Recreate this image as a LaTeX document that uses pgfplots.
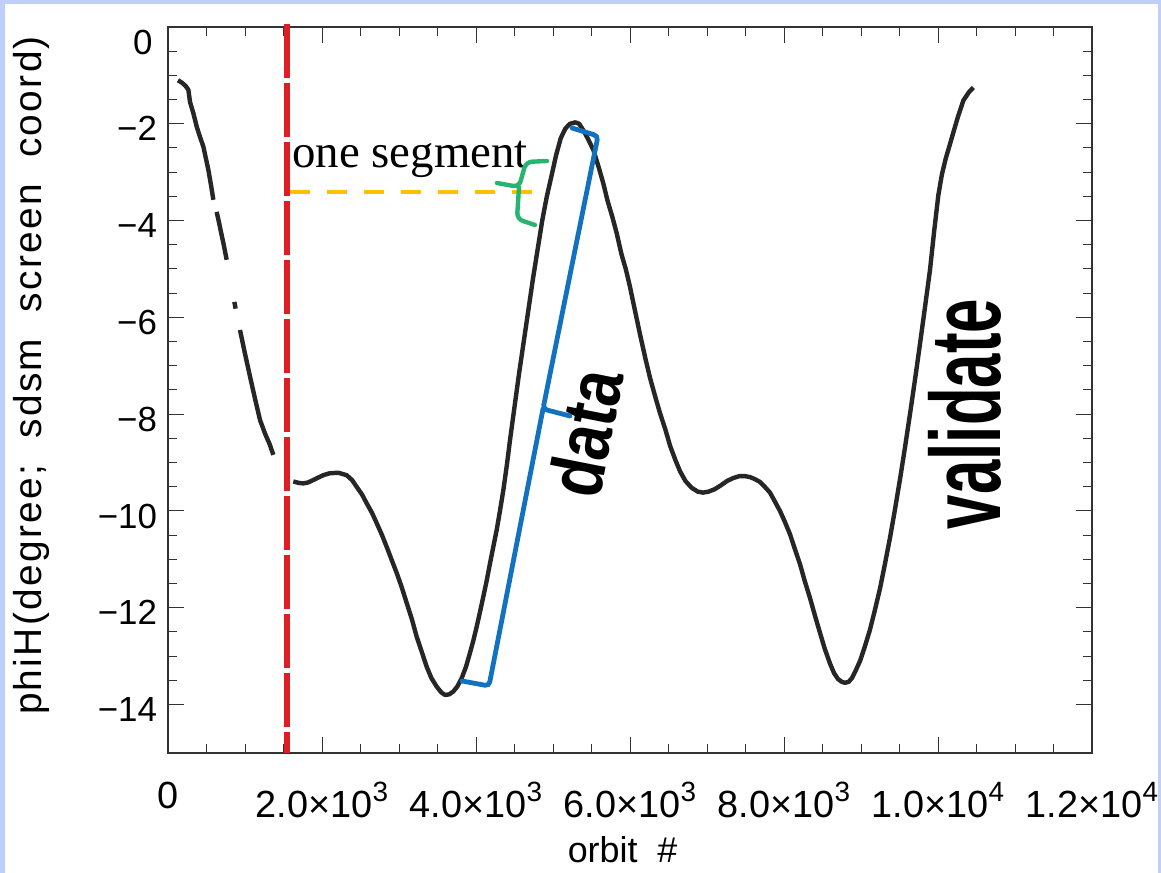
\documentclass[border=0pt]{standalone}
\usepackage{pgfplots}
\pgfplotsset{compat=1.18}
\usepackage{fontspec}
\usepackage{graphicx}
\setmainfont{Liberation Sans}
\newfontfamily\seriffont{Liberation Serif}
\newfontfamily\spacedfont[LetterSpace=6]{Liberation Sans}

\definecolor{bgblue}{RGB}{192,206,250}
\definecolor{redl}{RGB}{222,30,36}
\definecolor{orangel}{RGB}{255,192,0}
\definecolor{greenl}{RGB}{38,180,112}
\definecolor{bluel}{RGB}{18,114,192}

\newcommand{\ex}[1]{\raisebox{0.42em}{\fontsize{14}{14}\selectfont #1}}

\begin{document}
\begin{tikzpicture}
\fill[white] (0,0) rectangle (580.5bp,436.5bp);
\begin{axis}[
  at={(84bp,60bp)}, anchor=south west,
  scale only axis, width=462bp, height=363bp,
  xmin=0, xmax=12000, ymin=-15, ymax=0,
  scaled x ticks=false,
  xtick={0,2000,4000,6000,8000,10000,12000},
  xticklabels={0, 2.0×10\ex{3}, 4.0×10\ex{3}, 6.0×10\ex{3}, 8.0×10\ex{3}, 1.0×10\ex{4}, 1.2×10\ex{4}},
  ytick={-14,-12,-10,-8,-6,-4,-2,0},
  yticklabels={−14,−12,−10,−8,−6,−4,−2,{}},
  minor x tick num=3, minor y tick num=3,
  tick align=inside, major tick length=8bp, minor tick length=4.5bp,
  every tick/.style={black!80, line width=0.5bp},
  axis line style={black!80, line width=0.6bp},
  yticklabel style={font=\fontsize{17.5}{20}\selectfont, xshift=-2bp, yshift=-2.5bp},
  xticklabel style={font=\fontsize{19}{22}\selectfont, yshift=-11bp},
  xlabel={orbit\ \ \#},
  xlabel style={at={(axis description cs:0.492,-0.133)}, anchor=center, font=\fontsize{18}{20}\selectfont},
  ylabel={\spacedfont phiH(degree;\ \ sdsm\ \ screen\ \ coord)},
  ylabel style={at={(axis description cs:-0.148,0.52)}, anchor=center, font=\fontsize{19.5}{22}\selectfont},
]
% before the red line: four pieces with gaps
\addplot[black!85, line width=2.2bp, line join=round] coordinates {
(130,-1.10) (180,-1.15) (230,-1.22) (265,-1.30) (286,-1.55) (329,-1.78) (373,-2.06) (415,-2.27) (459,-2.47) (490,-2.70) (524,-2.95) (560,-3.28) (589,-3.57)};
\addplot[black!85, line width=2.2bp, line join=round] coordinates {
(632,-3.82) (660,-4.02) (690,-4.25) (720,-4.47) (762,-4.81)};
\addplot[black!85, line width=2.2bp, line join=round] coordinates {
(862,-5.68) (878,-5.82)};
\addplot[black!85, line width=2.2bp, line join=round] coordinates {
(935,-6.26) (1000,-6.75) (1065,-7.22) (1130,-7.68) (1195,-8.12) (1260,-8.40) (1320,-8.62) (1368,-8.84)};
% after the red line
\addplot[black!85, line width=2.2bp, line join=round] coordinates {
(1627,-9.39) (1700,-9.42) (1757,-9.43) (1820,-9.41) (1887,-9.36) (1950,-9.31) (2017,-9.26) (2100,-9.22) (2212,-9.21) (2320,-9.26) (2390,-9.36) (2450,-9.50) (2520,-9.66) (2580,-9.84) (2650,-10.04) (2710,-10.25) (2780,-10.50) (2840,-10.74) (2900,-10.99) (2970,-11.28) (3030,-11.55) (3100,-11.90) (3170,-12.25) (3230,-12.60) (3300,-12.93) (3360,-13.22) (3420,-13.45) (3490,-13.63) (3550,-13.75) (3597,-13.80) (3650,-13.79) (3705,-13.73) (3760,-13.62) (3815,-13.45) (3870,-13.22) (3922,-12.93) (3965,-12.68) (4009,-12.39) (4050,-12.10) (4095,-11.77) (4140,-11.43) (4182,-11.08) (4225,-10.74) (4269,-10.39) (4312,-9.99) (4355,-9.57) (4400,-9.06) (4442,-8.53) (4500,-7.85) (4560,-7.15) (4620,-6.50) (4680,-5.85) (4740,-5.20) (4800,-4.60) (4860,-4.00) (4920,-3.50) (4980,-3.08) (5040,-2.65) (5100,-2.30) (5160,-2.10) (5220,-2.00) (5290,-1.97) (5340,-2.00) (5400,-2.15) (5460,-2.33) (5524,-2.54) (5590,-2.88) (5653,-3.23) (5710,-3.60) (5770,-3.92) (5827,-4.26) (5890,-4.70) (5945,-5.00) (6000,-5.37) (6070,-5.90) (6130,-6.35) (6200,-6.85) (6260,-7.25) (6330,-7.65) (6390,-7.98) (6460,-8.32) (6520,-8.65) (6590,-8.95) (6650,-9.18) (6720,-9.38) (6800,-9.52) (6880,-9.60) (6948,-9.62) (7020,-9.60) (7100,-9.55) (7180,-9.47) (7260,-9.38) (7340,-9.32) (7420,-9.28) (7494,-9.28) (7560,-9.30) (7620,-9.34) (7688,-9.40) (7750,-9.50) (7818,-9.62) (7880,-9.80) (7948,-10.00) (8010,-10.22) (8078,-10.48) (8140,-10.78) (8208,-11.10) (8270,-11.45) (8338,-11.80) (8400,-12.15) (8468,-12.52) (8530,-12.85) (8597,-13.15) (8650,-13.35) (8701,-13.47) (8750,-13.53) (8792,-13.55) (8840,-13.53) (8883,-13.45) (8930,-13.30) (8987,-13.10) (9050,-12.80) (9117,-12.45) (9180,-12.05) (9247,-11.60) (9310,-11.10) (9377,-10.55) (9440,-9.98) (9506,-9.35) (9570,-8.70) (9636,-8.00) (9700,-7.30) (9766,-6.55) (9830,-5.80) (9896,-5.02) (9950,-4.22) (10004,-3.48) (10050,-3.05) (10100,-2.72) (10150,-2.45) (10199,-2.18) (10260,-1.85) (10329,-1.52) (10400,-1.35) (10459,-1.25)};
\end{axis}
% annotations, in pixel units of the picture
\begin{scope}[shift={(0bp,436.5bp)}, x=0.5bp, y=-0.5bp]
\node[anchor=east, inner sep=0, font=\fontsize{17.5}{20}\selectfont] at (153,42.5) {0};
\draw[redl, line width=2.7bp, dash pattern=on 27bp off 2.5bp] (287,24) -- (287,753);
\draw[orangel, line width=2.1bp, dash pattern=on 10bp off 8.5bp] (290,192) -- (535,192);
\node[anchor=base west, inner sep=0, font=\seriffont\fontsize{23.5}{26}\selectfont] at (292,168) {one segment};
\draw[greenl, line width=2.2bp, rounded corners=3bp, line cap=round] (547,161) -- (526,162) -- (519,187) -- (497,183);
\draw[greenl, line width=2.2bp, rounded corners=3bp, line cap=round] (519,187) -- (517,219) -- (535,225);
\draw[bluel, line width=2.4bp, rounded corners=2bp, line cap=round] (572,128) -- (598,136) -- (543,409) -- (570,416);
\draw[bluel, line width=2.4bp, rounded corners=2bp, line cap=round] (543,409) -- (489,686) -- (462,681);
\node[rotate=78.8, inner sep=0] at (585,433) {\scalebox{0.82}[1]{\bfseries\fontsize{38}{42}\selectfont data}};
\node[rotate=90, inner sep=0] at (965,414) {\scalebox{0.62}[1]{\bfseries\fontsize{50}{54}\selectfont validate}};
\end{scope}
% light blue frame
\fill[bgblue] (0,0) rectangle (2.5bp,436.5bp);
\fill[bgblue] (0,434.5bp) rectangle (580.5bp,436.5bp);
\fill[bgblue] (579bp,0) rectangle (580.5bp,436.5bp);
\pgfresetboundingbox
\path[use as bounding box] (0,0) rectangle (580.5bp,436.5bp);
\end{tikzpicture}
\end{document}
